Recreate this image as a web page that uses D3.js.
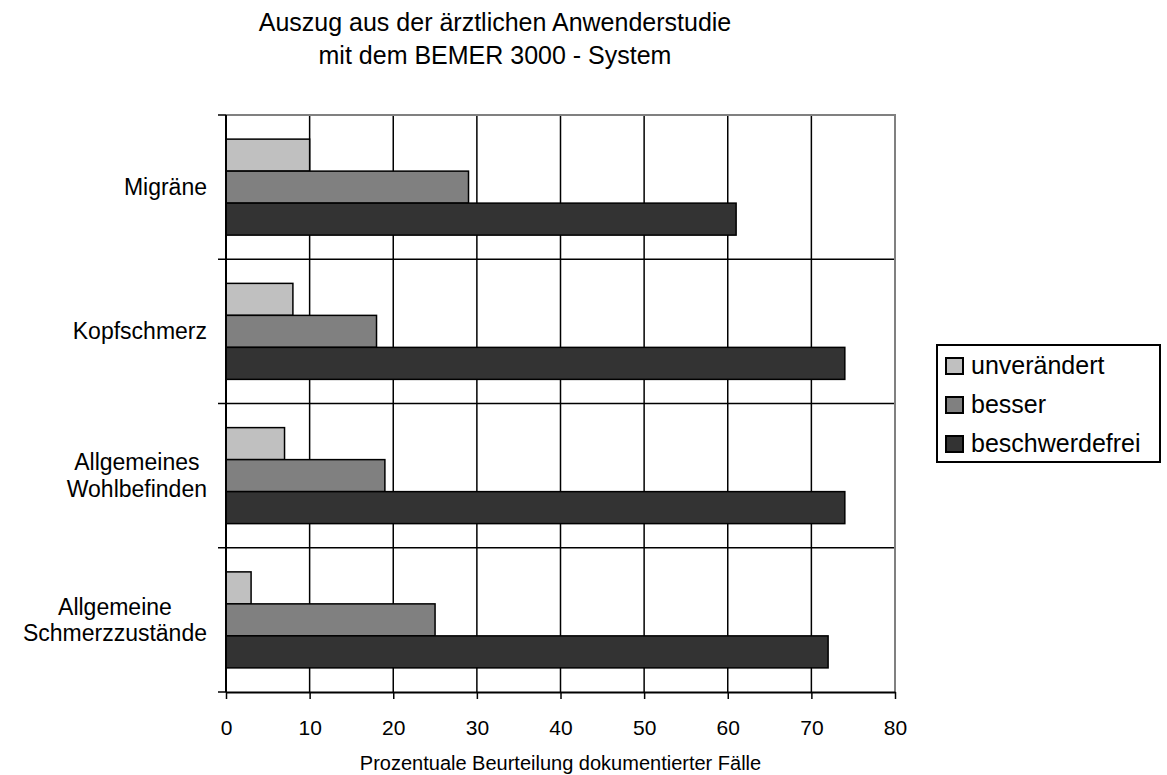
<!DOCTYPE html>
<html><head><meta charset="utf-8">
<script src="https://cdn.jsdelivr.net/npm/d3@7"></script>
<style>
body{margin:0;background:#fff;}
text{font-family:"Liberation Sans",Arial,sans-serif;fill:#000;}
</style></head><body>
<svg id="c" width="1167" height="775"></svg>
<script>
const categories = [["Migräne"],["Kopfschmerz"],["Allgemeines","Wohlbefinden"],["Allgemeine","Schmerzzustände"]];
const seriesNames = ["unverändert","besser","beschwerdefrei"];
const unveraendert = [10,8,7,3];
const besser = [29,18,19,25];
const beschwerdefrei = [61,74,74,72];
const xTicks = [0,10,20,30,40,50,60,70,80];
const titleLines = ["Auszug aus der ärztlichen Anwenderstudie","mit dem BEMER 3000 - System"];
const xTitle = "Prozentuale Beurteilung dokumentierter Fälle";

const colors = ["#c0c0c0","#808080","#333333"];
const seriesVals = [unveraendert,besser,beschwerdefrei];

const svg = d3.select("#c");
const L=226, R=895, T=115, B=692;
const x = d3.scaleLinear().domain([0,80]).range([L,R]);
const y = d3.scaleBand().domain(d3.range(categories.length)).range([T,B]);
const bw = 32;
const pad = (y.bandwidth()-3*bw)/2;

// vertical gridlines
svg.append("g").selectAll("line").data(xTicks.filter(d=>d>0&&d<80)).join("line")
  .attr("x1",d=>x(d)).attr("x2",d=>x(d)).attr("y1",T).attr("y2",B)
  .attr("stroke","#000").attr("stroke-width",1.5);
// horizontal gridlines at band boundaries
svg.append("g").selectAll("line").data(d3.range(1,categories.length)).join("line")
  .attr("x1",L).attr("x2",R).attr("y1",d=>y(d)).attr("y2",d=>y(d))
  .attr("stroke","#000").attr("stroke-width",1.5);
// top and right border (gray)
svg.append("path").attr("d",`M${L},${T}H${R}V${B}`).attr("fill","none")
  .attr("stroke","#808080").attr("stroke-width",2);

// bars
categories.forEach((c,i)=>{
  seriesVals.forEach((vals,s)=>{
    svg.append("rect")
      .attr("x",x(0)).attr("y",y(i)+pad+s*bw)
      .attr("width",x(vals[i])-x(0)).attr("height",bw)
      .attr("fill",colors[s]).attr("stroke","#000").attr("stroke-width",1.5);
  });
});

// x axis
const xa = svg.append("g").attr("transform",`translate(0,${B})`)
  .call(d3.axisBottom(x).tickValues(xTicks).tickSize(7).tickSizeOuter(0).tickPadding(0));
xa.select(".domain").attr("stroke","#000").attr("stroke-width",2);
xa.selectAll(".tick line").attr("stroke","#000").attr("stroke-width",1.5);
xa.selectAll(".tick text").attr("font-size",21).attr("font-family","Liberation Sans, Arial, sans-serif")
  .attr("fill","#000").attr("dy",null).attr("y",35).attr("dominant-baseline","central");

// y axis: ticks at band boundaries
const yb = d3.range(categories.length+1).map(i=> i<categories.length? y(i): B);
svg.append("line").attr("x1",L).attr("x2",L).attr("y1",T).attr("y2",B).attr("stroke","#000").attr("stroke-width",2);
svg.append("g").selectAll("line").data(yb).join("line")
  .attr("x1",L-8).attr("x2",L).attr("y1",d=>d).attr("y2",d=>d)
  .attr("stroke","#000").attr("stroke-width",1.5);

// category labels
const lh = 26.7;
categories.forEach((lines,i)=>{
  const cy = y(i)+y.bandwidth()/2;
  const g = svg.append("g");
  const ts = lines.map((ln,k)=> g.append("text").attr("font-size",23)
      .attr("text-anchor","middle").attr("dominant-baseline","central")
      .attr("y", cy + (k-(lines.length-1)/2)*lh).text(ln));
  const w = d3.max(ts, t=>t.node().getComputedTextLength());
  ts.forEach(t=>t.attr("x", 207 - w/2));
});

// title
titleLines.forEach((t,k)=>{
  svg.append("text").attr("x",495).attr("y",31+k*33).attr("font-size",25)
    .attr("text-anchor","middle").text(t);
});
// x title
svg.append("text").attr("x",(L+R)/2).attr("y",763).attr("font-size",20)
  .attr("text-anchor","middle").attr("dominant-baseline","central").text(xTitle);

// legend
const lg = svg.append("g");
lg.append("rect").attr("x",937).attr("y",345).attr("width",223).attr("height",117)
  .attr("fill","#fff").attr("stroke","#000").attr("stroke-width",2);
seriesNames.forEach((n,s)=>{
  const base = 374 + s*39;
  lg.append("rect").attr("x",946).attr("y",base-16).attr("width",17).attr("height",16)
    .attr("fill",colors[s]).attr("stroke","#000").attr("stroke-width",2);
  lg.append("text").attr("x",971).attr("y",base).attr("font-size",25).text(n);
});
</script>
</body></html>
